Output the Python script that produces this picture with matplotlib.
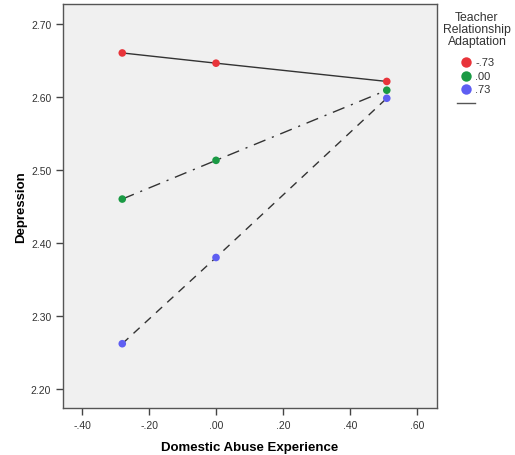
import matplotlib
matplotlib.use("Agg")
import matplotlib.pyplot as plt
from matplotlib.lines import Line2D

x_vals = [-0.28, 0.00, 0.51]
series_labels = ["-.73", ".00", ".73"]
red_vals = [2.660, 2.646, 2.621]
green_vals = [2.460, 2.513, 2.609]
blue_vals = [2.262, 2.380, 2.598]
xticks = [-0.40, -0.20, 0.00, 0.20, 0.40, 0.60]
xtick_labels = ["-.40", "-.20", ".00", ".20", ".40", ".60"]
yticks = [2.20, 2.30, 2.40, 2.50, 2.60, 2.70]
ytick_labels = ["2.20", "2.30", "2.40", "2.50", "2.60", "2.70"]

plt.rcParams['font.family'] = ['Liberation Sans', 'DejaVu Sans']

fig = plt.figure(figsize=(5.15, 4.56), dpi=100)
ax = fig.add_axes([63/515, 47/456, 374/515, 404/456])
ax.set_facecolor('#f0f0f0')

colors = ['#e8343a', '#1a9a44', '#5e5ef2']
styles = ['-', (0, (9, 5, 1.5, 5)), (0, (6, 5))]
series = [red_vals, green_vals, blue_vals]
for vals, c, ls in zip(series, colors, styles):
    ax.plot(x_vals, vals, color='#333333', lw=1.0, linestyle=ls, zorder=2)
    ax.scatter(x_vals, vals, s=30, color=c, zorder=3, edgecolors='none')

ax.set_xlim(-0.457, 0.66)
ax.set_ylim(2.174, 2.727)
ax.set_xticks(xticks)
ax.set_xticklabels(xtick_labels, fontsize=7.5, color='#333333')
ax.set_yticks(yticks)
ax.set_yticklabels(ytick_labels, fontsize=7.5, color='#333333')
ax.tick_params(direction='out', length=5, width=1, color='#444444')
for sp in ax.spines.values():
    sp.set_color('#555555')
    sp.set_linewidth(1.0)

ax.set_xlabel('Domestic Abuse Experience', fontsize=9.5, fontweight='bold', labelpad=8)
ax.set_ylabel('Depression', fontsize=9.5, fontweight='bold', labelpad=3)

# legend
fig.text(477/515, 1 - 30/456, 'Teacher\nRelationship\nAdaptation', ha='center', va='center',
         fontsize=8.8, color='#333333', linespacing=1.05)
for i, (lab, c) in enumerate(zip(series_labels, colors)):
    yy = 1 - (63 + i * 13.5) / 456
    fig.add_artist(Line2D([466/515], [yy], marker='o', markersize=7.5, color=c,
                          markeredgecolor='none', linestyle='none'))
    fig.text(475/515, yy, lab, ha='left', va='center', fontsize=8, color='#333333')
yl = 1 - 104/456
fig.add_artist(Line2D([457/515, 475/515], [yl, yl], color='#555555', lw=1.0))

fig.savefig('out.png', dpi=100)
